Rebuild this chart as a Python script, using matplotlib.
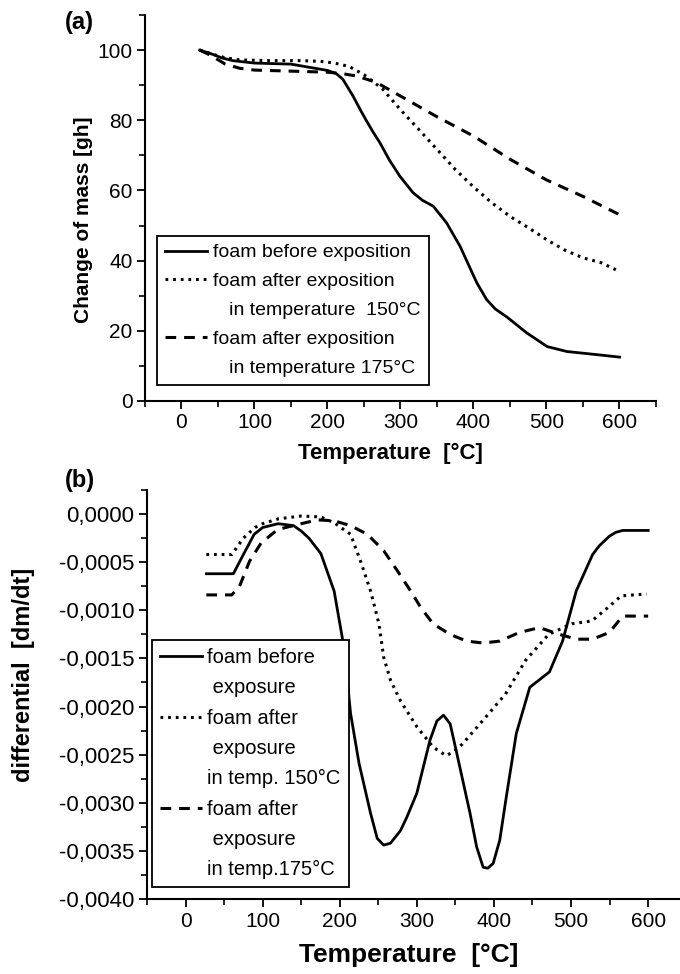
import matplotlib
matplotlib.use("Agg")
from matplotlib import pyplot as plt
from matplotlib.lines import Line2D
from matplotlib.ticker import MultipleLocator, FuncFormatter

plt.rcParams['font.family'] = ['Liberation Sans', 'DejaVu Sans']

# ---- (a) change of mass ----
t_before_a = [25, 40, 55, 70, 100, 150, 200, 212, 221, 235, 246, 253, 262, 271.5, 285, 299, 317, 330, 345,
              363, 381.6, 404.5, 418, 430, 446, 473, 501, 528, 574, 600]
m_before = [100, 99, 97.8, 97, 96.3, 96, 94.2, 93.3, 91.7, 86.9, 82.6, 80, 76.8, 73.7, 68.6, 64.1, 59.4,
            57.2, 55.5, 50.8, 44.1, 33.7, 28.9, 26.2, 23.9, 19.4, 15.5, 14.1, 13.1, 12.5]

t_150_a = [25, 40, 60, 80, 120, 160, 190, 210, 230, 250, 275, 300, 325, 350, 375, 400, 425, 450, 475,
           500, 525, 550, 575, 595]
m_150 = [100, 99, 97.8, 97.2, 97, 97, 96.8, 96.3, 95.3, 93, 89, 83, 77.4, 71.7, 66, 61, 56.5, 52.6, 49.4,
         46, 43, 40.8, 39.4, 37.4]

t_175_a = [25, 40, 60, 80, 100, 150, 200, 220, 240, 267, 300, 350, 400, 450, 500, 550, 600]
m_175 = [100, 98.5, 96, 94.8, 94.3, 94, 93.7, 93.3, 92.6, 90.8, 86.9, 81, 75.5, 68.9, 63, 58.3, 53.1]

# ---- (b) differential ----
t_before_b = [27, 62, 75, 89, 100, 120, 140, 150, 160, 175.5, 192.7, 205.6, 214, 225, 240, 248.6, 257,
              265.8, 278.7, 287, 300, 317, 326, 334.6, 343.2, 351.9, 369, 377.6, 386, 392, 399, 407.5,
              416, 429, 446.5, 472, 489, 506.7, 528, 536.6, 549.7, 558, 567, 600]
d_before = [-0.00062, -0.00062, -0.00042, -0.00021, -0.00014, -0.0001, -0.00012, -0.000176, -0.00025,
            -0.00041, -0.0008, -0.00139, -0.00207, -0.00259, -0.00311, -0.00337, -0.00344, -0.00342,
            -0.00329, -0.00315, -0.0029, -0.00235, -0.00215, -0.00209, -0.00218, -0.00249, -0.00311,
            -0.00346, -0.00367, -0.00368, -0.00363, -0.00339, -0.00294, -0.00228, -0.0018, -0.00164,
            -0.00132, -0.0008, -0.00042, -0.00033, -0.00023, -0.00019, -0.00017, -0.00017]

t_150_b = [27, 60, 75, 90, 100, 120, 150, 175.5, 192.7, 214, 227, 240, 250.8, 257, 266, 278.7, 300, 321,
           330, 338, 347.5, 359, 385, 415, 441, 471, 501, 527, 548, 565, 598]
d_150 = [-0.00042, -0.00042, -0.00025, -0.00014, -0.0001, -0.00005, -0.00002, -0.00003, -0.00009,
         -0.00021, -0.00049, -0.0008, -0.00114, -0.00149, -0.00173, -0.00194, -0.00221, -0.00242,
         -0.00247, -0.00251, -0.00247, -0.00239, -0.00215, -0.00187, -0.00152, -0.00125, -0.00114,
         -0.00111, -0.00097, -0.00085, -0.00083]

t_175_b = [27, 60, 70, 83, 98, 119.6, 150, 171, 192.7, 214, 235.7, 257, 274.8, 292, 305, 321, 343, 364.5,
           386, 407.5, 433, 459, 485, 507, 528, 549.7, 567, 600]
d_175 = [-0.00084, -0.00084, -0.00075, -0.00049, -0.0003, -0.00016, -0.0001, -0.00006, -0.00007,
         -0.00012, -0.00021, -0.00038, -0.00059, -0.0008, -0.00097, -0.00114, -0.00125, -0.00132,
         -0.00134, -0.00132, -0.00123, -0.00118, -0.00125, -0.0013, -0.0013, -0.00123, -0.00106, -0.00106]

legend_a = ["foam before exposition", "foam after exposition", "   in temperature  150°C",
            "foam after exposition", "   in temperature 175°C"]
legend_b = ["foam before", " exposure", "foam after", " exposure", "in temp. 150°C",
            "foam after", " exposure", "in temp.175°C"]

solid = dict(color='black', lw=2.0, linestyle='-')
dotted = dict(color='black', lw=2.2, linestyle=(0, (0.9, 1.6)))
dashed = dict(color='black', lw=2.2, linestyle=(0, (3.5, 2.6)))

fig = plt.figure(figsize=(6.8, 9.74), dpi=100)
ax1 = fig.add_axes([0.2132, 0.5883, 0.7515, 0.3963])
ax2 = fig.add_axes([0.2162, 0.0770, 0.7823, 0.4199])


def style(ax):
    for s in ['top', 'right']:
        ax.spines[s].set_visible(False)
    for s in ['left', 'bottom']:
        ax.spines[s].set_linewidth(1.5)
    ax.tick_params(which='major', direction='out', length=6, width=1.3, pad=3)
    ax.tick_params(which='minor', direction='out', length=4, width=1.2)
    ax.xaxis.set_major_locator(MultipleLocator(100))
    ax.xaxis.set_minor_locator(MultipleLocator(50))
    ax.tick_params(axis='x', labelsize=15)


# panel (a)
ax1.plot(t_before_a, m_before, **solid)
ax1.plot(t_150_a, m_150, **dotted)
ax1.plot(t_175_a, m_175, **dashed)
ax1.set_xlim(-50, 650)
ax1.set_ylim(0, 110)
style(ax1)
ax1.yaxis.set_major_locator(MultipleLocator(20))
ax1.yaxis.set_minor_locator(MultipleLocator(10))
ax1.tick_params(axis='y', labelsize=15)
ax1.set_xlabel("Temperature  [°C]", fontsize=16, fontweight='bold')
ax1.set_ylabel("Change of mass [gh]", fontsize=15, fontweight='bold')
ax1.xaxis.set_label_coords(0.481, -0.108)
ax1.yaxis.set_label_coords(-0.102, 0.469)

blank = Line2D([], [], color='none')
h_a = [Line2D([], [], **solid), Line2D([], [], **dotted), blank,
       Line2D([], [], **dashed), blank]
leg1 = ax1.legend(h_a, legend_a, loc='upper left', bbox_to_anchor=(0.0235, 0.4275),
                  borderaxespad=0, fontsize=14, handlelength=2.15, handletextpad=0.35,
                  labelspacing=0.58, borderpad=0.4, fancybox=False, framealpha=1,
                  edgecolor='black')
leg1.get_frame().set_linewidth(1.3)

# panel (b)
ax2.plot(t_before_b, d_before, **solid)
ax2.plot(t_150_b, d_150, **dotted)
ax2.plot(t_175_b, d_175, **dashed)
ax2.set_xlim(-50, 640)
ax2.set_ylim(-0.0040, 0.00025)
style(ax2)
ax2.yaxis.set_major_locator(MultipleLocator(0.0005))
ax2.yaxis.set_minor_locator(MultipleLocator(0.00025))
ax2.yaxis.set_major_formatter(FuncFormatter(
    lambda v, p: ("%.4f" % (0.0 if abs(v) < 1e-9 else v)).replace('.', ',')))
ax2.tick_params(axis='y', labelsize=16)
ax2.set_xlabel("Temperature  [°C]", fontsize=19, fontweight='bold')
ax2.set_ylabel("differential  [dm/dt]", fontsize=17, fontweight='bold')
ax2.xaxis.set_label_coords(0.492, -0.108)
ax2.yaxis.set_label_coords(-0.211, 0.548)

h_b = [Line2D([], [], **solid), blank, Line2D([], [], **dotted), blank, blank,
       Line2D([], [], **dashed), blank, blank]
leg2 = ax2.legend(h_b, legend_b, loc='upper left', bbox_to_anchor=(0.0094, 0.633),
                  borderaxespad=0, fontsize=14.5, handlelength=2.1, handletextpad=0.25,
                  labelspacing=0.56, borderpad=0.4, fancybox=False, framealpha=1,
                  edgecolor='black')
leg2.get_frame().set_linewidth(1.3)

fig.text(0.096, 0.977, "(a)", fontsize=17, fontweight='bold', ha='left', va='center')
fig.text(0.096, 0.507, "(b)", fontsize=17, fontweight='bold', ha='left', va='center')

fig.savefig("out.png", dpi=100)
